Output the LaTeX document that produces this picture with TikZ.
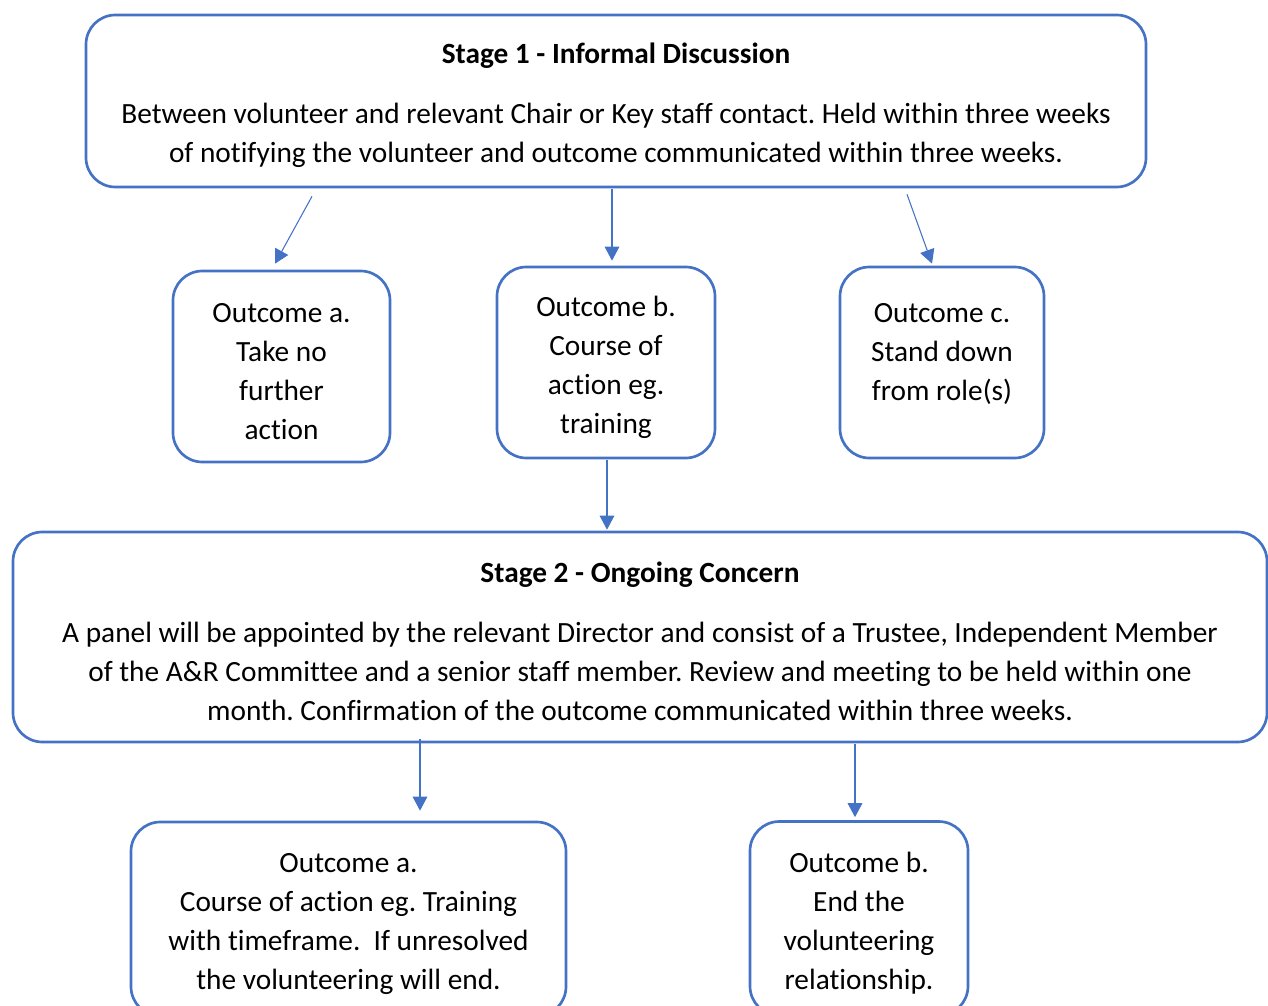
\documentclass[tikz,border=0pt]{standalone}
\usepackage{fontspec}
\setmainfont[Ligatures=NoCommon]{Carlito}
\usetikzlibrary{arrows.meta}
\definecolor{wordblue}{HTML}{4472C4}
\newcommand{\topstrut}{\rule{0pt}{22pt}}
\frenchspacing
\begin{document}
\begin{tikzpicture}[x=0.75pt,y=-0.75pt,
    box/.style={draw=wordblue,line width=2pt,rounded corners=22pt,align=center,inner sep=0pt,
        font=\fontsize{22}{29.3}\selectfont},
    arr/.style={draw=wordblue,line width=0.8pt,-{Triangle[length=10.5pt,width=11pt]}}]
    \useasboundingbox (0,0) rectangle (1268,1006);
    \clip (0,0) rectangle (1268,1006);
    % stage 1 and its outcomes
    \node[box,minimum width=795pt,minimum height=129pt] (s1) at (616,101)
        {\topstrut\textbf{Stage 1 - Informal Discussion}\\[15.5pt]
         Between volunteer and relevant Chair or Key staff contact. Held within three weeks\\
         of notifying the volunteer and outcome communicated within three weeks.};
    \node[box,minimum width=162.75pt,minimum height=143.25pt] (a1) at (281.5,366.5)
        {\topstrut Outcome a.\\Take no\\further\\action};
    \node[box,minimum width=163.5pt,minimum height=143.25pt] (b1) at (606,362.5)
        {\topstrut Outcome b.\\Course of\\action eg.\\training};
    \node[box,minimum width=153pt,minimum height=143.25pt,
        execute at end node={\rule[-16pt]{0pt}{0pt}}] (c1) at (942,362.5)
        {Outcome c.\\Stand down\\from role(s)};
    % stage 2 and its outcomes
    \node[box,minimum width=940.5pt,minimum height=157.5pt] (s2) at (640,637)
        {\topstrut\textbf{Stage 2 - Ongoing Concern}\\[15.5pt]
         A panel will be appointed by the relevant Director and consist of a Trustee, Independent Member\\
         of the A\&R Committee and a senior staff member. Review and meeting to be held within one\\
         month. Confirmation of the outcome communicated within three weeks.};
    \node[box,minimum width=326.25pt,minimum height=145.5pt] (a2) at (348.5,919)
        {\topstrut Outcome a.\\Course of action eg. Training\\with timeframe.\ \ If unresolved\\the volunteering will end.};
    \node[box,minimum width=163.5pt,minimum height=145.5pt] (b2) at (859,918.5)
        {\topstrut Outcome b.\\End the\\volunteering\\relationship.};
    % connectors
    \draw[arr] ([shift={(-304,8)}]s1.south) -- ([shift={(-6.5,-6)}]a1.north);
    \draw[arr] ([shift={(-4,1)}]s1.south) -- ([shift={(6,-5)}]b1.north);
    \draw[arr] ([shift={(291,6)}]s1.south) -- ([shift={(-10,-2)}]c1.north);
    \draw[arr] ([shift={(1,1)}]b1.south) -- ([shift={(-33,-1)}]s2.north);
    \draw[arr] ([shift={(-220,-4)}]s2.south) -- ([shift={(71.5,-10)}]a2.north);
    \draw[arr] ([shift={(215,1)}]s2.south) -- ([shift={(-4,-3)}]b2.north);
\end{tikzpicture}
\end{document}
